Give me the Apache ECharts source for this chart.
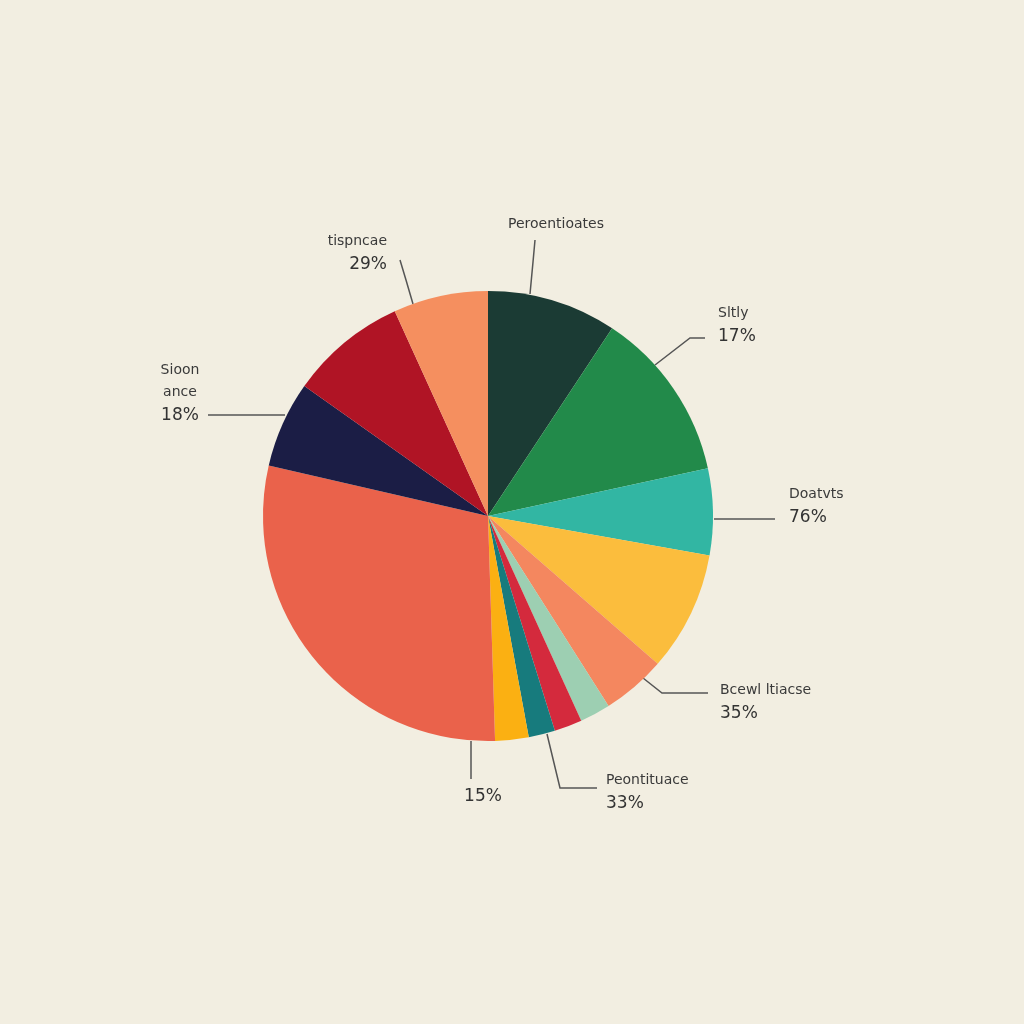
<!DOCTYPE html>
<html>
<head>
<meta charset="utf-8">
<script src="https://cdn.jsdelivr.net/npm/echarts@6/dist/echarts.min.js"></script>
<style>
html,body{margin:0;padding:0;background:#f2eee1;}
#chart{width:1024px;height:1024px;}
</style>
</head>
<body>
<div id="chart"></div>
<script>
// Slice values (percent of the whole, clockwise from 12 o'clock)
const sliceValues = [9.3, 12.3, 6.2, 8.6, 4.6, 2.2, 2.0, 1.9, 2.4, 29.1, 6.2, 8.4, 6.8];
const sliceNames = ['Peroentioates', 'Sltly', 'Doatvts', 'Slice 4', 'Bcewl ltiacse', 'Slice 6', 'Slice 7',
  'Peontituace', 'Slice 9', 'Slice 10', 'Sioon ance', 'Slice 12', 'tispncae'];
const sliceColors = ['#1b3b34', '#228a4a', '#32b6a3', '#fbbd3d', '#f4875f', '#9dcfb2', '#d42a3d',
  '#177b7d', '#fbb012', '#ea624b', '#1b1d45', '#b01425', '#f58f5f'];
// Label texts as printed in the picture ('' = no label for that slice)
const labelNames = ['Peroentioates', 'Sltly', 'Doatvts', '', 'Bcewl ltiacse', '', '',
  'Peontituace', '', '', 'Sioon\nance', '', 'tispncae'];
const labelPcts = ['', '17%', '76%', '', '35%', '', '', '33%', '', '15%', '18%', '', '29%'];

// label placement (layout only)
const labelPlace = {
  0: {x: 556, y: 213, align: 'center', line: [[530, 294], [533, 262], [535, 240]]},
  1: {x: 718, y: 302, align: 'left', line: [[655, 365], [690, 338], [705, 338]]},
  2: {x: 789, y: 483, align: 'left', line: [[714, 519], [745, 519], [775, 519]]},
  4: {x: 720, y: 679, align: 'left', line: [[643, 678], [662, 693], [708, 693]]},
  7: {x: 606, y: 769, align: 'left', line: [[547, 734], [560, 788], [597, 788]]},
  9: {x: 483, y: 784, align: 'center', line: [[471, 741], [471, 760], [471, 779]]},
  10: {x: 180, y: 359, align: 'center', line: [[285, 415], [246, 415], [208, 415]]},
  12: {x: 387, y: 230, align: 'right', line: [[413, 304], [406, 280], [400, 260]]}
};

const data = sliceValues.map((v, i) => {
  const has = labelNames[i] !== '' || labelPcts[i] !== '';
  return {
    value: v,
    name: sliceNames[i],
    itemStyle: {color: sliceColors[i]},
    label: {show: has},
    labelLine: {show: has}
  };
});

const chart = echarts.init(document.getElementById('chart'));
chart.setOption({
  backgroundColor: '#f2eee1',
  animation: false,
  series: [{
    type: 'pie',
    center: [488, 516],
    radius: 225,
    startAngle: 90,
    clockwise: true,
    avoidLabelOverlap: false,
    emphasis: {disabled: true},
    itemStyle: {borderWidth: 0},
    data: data,
    label: {
      position: 'outside',
      color: '#333',
      fontFamily: 'DejaVu Sans',
      formatter: p => {
        const i = p.dataIndex;
        const parts = [];
        if (labelNames[i]) labelNames[i].split('\n').forEach(s => parts.push('{n|' + s + '}'));
        if (labelPcts[i]) parts.push('{p|' + labelPcts[i] + '}');
        return parts.join('\n');
      },
      rich: {
        n: {fontSize: 14, lineHeight: 22, color: '#3a3a3a', fontFamily: 'DejaVu Sans'},
        p: {fontSize: 17, lineHeight: 26, color: '#333', fontFamily: 'DejaVu Sans'}
      }
    },
    labelLine: {
      show: true,
      lineStyle: {color: '#555', width: 1.5}
    },
    labelLayout: params => {
      const pl = labelPlace[params.dataIndex];
      if (!pl) return {};
      return {
        x: pl.x,
        y: pl.y,
        align: pl.align,
        verticalAlign: 'top',
        labelLinePoints: pl.line
      };
    }
  }]
});
</script>
</body>
</html>
